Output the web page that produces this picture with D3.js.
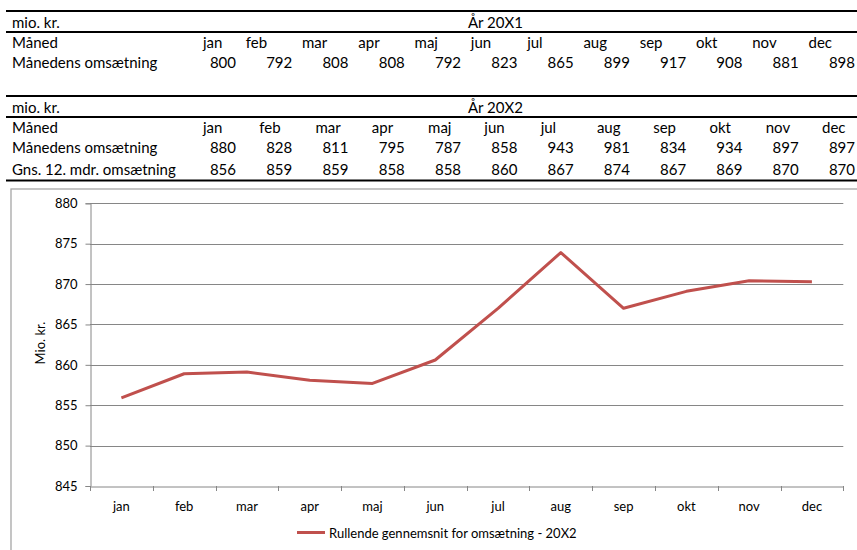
<!DOCTYPE html>
<html>
<head>
<meta charset="utf-8">
<script src="https://cdn.jsdelivr.net/npm/d3@7"></script>
<style>
  html, body { margin: 0; padding: 0; background: #fff; }
  svg { display: block; font-family: Lato, "Open Sans", sans-serif; }
</style>
</head>
<body>
<svg id="chart" width="857" height="550"></svg>
<script>
// ---- data ----
const months = ["jan","feb","mar","apr","maj","jun","jul","aug","sep","okt","nov","dec"];
const revenue20X1 = [800,792,808,808,792,823,865,899,917,908,881,898];
const revenue20X2 = [880,828,811,795,787,858,943,981,834,934,897,897];
const avg12Table = [856,859,859,858,858,860,867,874,867,869,870,870];
const rollingAvg20X2 = [855.9,858.9,859.1,858.1,857.7,860.6,867.0,873.9,867.0,869.1,870.4,870.3];
const yTicks = [845,850,855,860,865,870,875,880];
const unitLabel = "mio. kr.";
const yearLabels = ["År 20X1","År 20X2"];
const rowMonth = "Måned";
const rowRevenue = "Månedens omsætning";
const rowAvg = "Gns. 12. mdr. omsætning";
const yAxisTitle = "Mio. kr.";
const legendLabel = "Rullende gennemsnit for omsætning - 20X2";

const svg = d3.select("#chart");
const lineColor = "#c0504d";

// ---- tables ----
const colRight = d3.scaleLinear().domain([0, 11]).range([236, 855]);
const tableFont = "15px";

function drawTable(top, yearLabel, rows, monthOffset) {
  const g = svg.append("g");
  g.append("line").attr("x1", 6).attr("x2", 857).attr("y1", top).attr("y2", top)
    .attr("stroke", "#000").attr("stroke-width", 2);
  g.append("line").attr("x1", 6).attr("x2", 857).attr("y1", top + 21).attr("y2", top + 21)
    .attr("stroke", "#000").attr("stroke-width", 2);
  g.append("text").attr("x", 12).attr("y", top + 17).style("font-size", tableFont).text(unitLabel);
  g.append("text").attr("x", 468).attr("y", top + 17).style("font-size", tableFont).text(yearLabel);
  g.append("text").attr("x", 12).attr("y", top + 37).style("font-size", tableFont).text(rowMonth);
  g.selectAll("text.m").data(months).join("text").attr("class", "m")
    .attr("x", (d, i) => colRight(i) + monthOffset(i))
    .attr("y", top + 37).style("font-size", tableFont).text(d => d);
  rows.forEach((r, k) => {
    const yb = top + 57 + 21.7 * k;
    g.append("text").attr("x", 12).attr("y", yb).style("font-size", tableFont).text(r.label);
    g.selectAll("text.v" + k).data(r.values).join("text").attr("class", "v" + k)
      .attr("x", (d, i) => colRight(i)).attr("y", yb)
      .attr("text-anchor", "end").style("font-size", tableFont).text(d => d);
  });
  return g;
}

drawTable(11, yearLabels[0], [{label: rowRevenue, values: revenue20X1}], i => (i === 0 ? -33 : -46.5));
drawTable(96, yearLabels[1], [{label: rowRevenue, values: revenue20X2}, {label: rowAvg, values: avg12Table}], i => -33);
svg.append("line").attr("x1", 6).attr("x2", 857).attr("y1", 180.5).attr("y2", 180.5)
  .attr("stroke", "#000").attr("stroke-width", 2);

// ---- chart frame ----
svg.append("rect").attr("x", 11).attr("y", 189).attr("width", 900).attr("height", 400)
  .attr("fill", "none").attr("stroke", "#a6a6a6").attr("stroke-width", 1.3);

// ---- chart ----
const plotL = 90, plotR = 843.3, plotT = 203.3, plotB = 486;
const x = d3.scaleBand().domain(months).range([plotL, plotR]).padding(0);
const y = d3.scaleLinear().domain([845, 880]).range([plotB, plotT]);
const axisColor = "#868686";

svg.append("g").selectAll("line").data(yTicks.filter(t => t !== 845)).join("line")
  .attr("x1", plotL).attr("x2", plotR)
  .attr("y1", d => Math.round(y(d)) + 0.5).attr("y2", d => Math.round(y(d)) + 0.5)
  .attr("stroke", axisColor).attr("stroke-width", 1);

const yAxis = svg.append("g").attr("transform", `translate(${plotL + 0.5},0)`)
  .call(d3.axisLeft(y).tickValues(yTicks).tickSize(5).tickPadding(8).tickFormat(d3.format("d")));
yAxis.select(".domain").attr("stroke", axisColor);
yAxis.selectAll(".tick line").attr("stroke", axisColor);
yAxis.selectAll(".tick text").attr("fill", "#000").style("font-size", "13px").style("font-family", "Lato, sans-serif");

const xAxis = svg.append("g").attr("transform", `translate(0,${Math.round(plotB) + 0.5})`)
  .call(d3.axisBottom(x).tickSize(0).tickPadding(15));
xAxis.select(".domain").attr("stroke", axisColor);
xAxis.selectAll(".tick text").attr("fill", "#000").style("font-size", "13px").style("font-family", "Lato, sans-serif");
svg.append("g").selectAll("line").data(d3.range(months.length + 1)).join("line")
  .attr("x1", i => Math.round(plotL + i * x.bandwidth()) + 0.5)
  .attr("x2", i => Math.round(plotL + i * x.bandwidth()) + 0.5)
  .attr("y1", Math.round(plotB)).attr("y2", Math.round(plotB) + 5)
  .attr("stroke", axisColor);

svg.append("text").attr("transform", `translate(45,343) rotate(-90)`)
  .attr("text-anchor", "middle").style("font-size", "13px").text(yAxisTitle);

const line = d3.line().x((d, i) => x(months[i]) + x.bandwidth() / 2).y(d => y(d));
svg.append("path").datum(rollingAvg20X2).attr("d", line)
  .attr("fill", "none").attr("stroke", lineColor).attr("stroke-width", 3)
  .attr("stroke-linejoin", "round");

svg.append("line").attr("x1", 297).attr("x2", 325).attr("y1", 532.5).attr("y2", 532.5)
  .attr("stroke", lineColor).attr("stroke-width", 3);
svg.append("text").attr("x", 329).attr("y", 537.5).style("font-size", "13px").text(legendLabel);
</script>
</body>
</html>
